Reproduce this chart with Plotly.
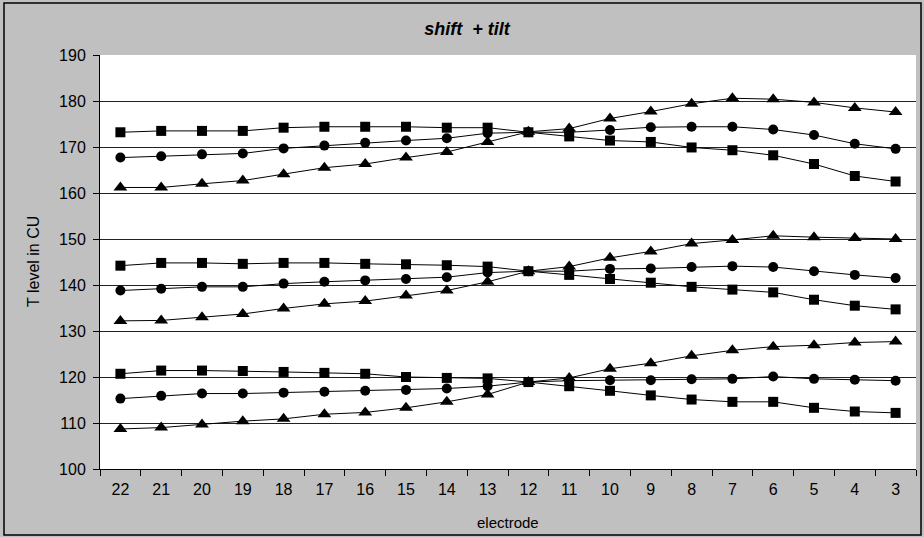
import plotly.graph_objects as go

electrodes = ["22", "21", "20", "19", "18", "17", "16", "15", "14", "13",
              "12", "11", "10", "9", "8", "7", "6", "5", "4", "3"]

# upper group
high_square = [173.2, 173.5, 173.5, 173.5, 174.2, 174.4, 174.4, 174.4, 174.2, 174.2,
               173.2, 172.3, 171.4, 171.1, 169.9, 169.3, 168.2, 166.3, 163.7, 162.5]
high_circle = [167.7, 168.0, 168.4, 168.6, 169.7, 170.3, 170.9, 171.4, 171.9, 173.0,
               173.2, 173.2, 173.7, 174.3, 174.4, 174.4, 173.8, 172.6, 170.7, 169.6]
high_triangle = [161.2, 161.2, 162.0, 162.7, 164.1, 165.5, 166.3, 167.7, 168.9, 171.1,
                 173.3, 174.0, 176.2, 177.7, 179.4, 180.6, 180.4, 179.7, 178.5, 177.6]

# middle group
mid_square = [144.2, 144.8, 144.8, 144.6, 144.8, 144.8, 144.6, 144.5, 144.3, 144.0,
              143.0, 142.2, 141.3, 140.5, 139.6, 139.0, 138.4, 136.8, 135.5, 134.7]
mid_circle = [138.8, 139.2, 139.6, 139.6, 140.3, 140.7, 141.0, 141.3, 141.7, 142.7,
              143.0, 143.0, 143.5, 143.6, 143.9, 144.1, 143.9, 143.0, 142.2, 141.5]
mid_triangle = [132.2, 132.3, 133.0, 133.7, 134.9, 135.9, 136.5, 137.7, 138.8, 140.7,
                143.0, 144.0, 145.9, 147.3, 149.0, 149.8, 150.7, 150.4, 150.2, 150.0]

# lower group
low_square = [120.7, 121.4, 121.4, 121.3, 121.1, 120.9, 120.7, 120.0, 119.8, 119.7,
              118.9, 118.0, 117.0, 116.0, 115.1, 114.6, 114.6, 113.3, 112.5, 112.2]
low_circle = [115.3, 115.9, 116.4, 116.4, 116.6, 116.8, 117.0, 117.2, 117.5, 118.0,
              118.9, 119.2, 119.3, 119.3, 119.5, 119.6, 120.1, 119.6, 119.4, 119.2]
low_triangle = [108.7, 109.0, 109.7, 110.4, 110.9, 111.9, 112.3, 113.3, 114.6, 116.2,
                118.9, 119.8, 121.8, 123.0, 124.6, 125.8, 126.6, 126.9, 127.5, 127.7]

series = [
    ("high square", high_square, "square", 10),
    ("high circle", high_circle, "circle", 10),
    ("high triangle", high_triangle, "triangle-up", 12),
    ("mid square", mid_square, "square", 10),
    ("mid circle", mid_circle, "circle", 10),
    ("mid triangle", mid_triangle, "triangle-up", 12),
    ("low square", low_square, "square", 10),
    ("low circle", low_circle, "circle", 10),
    ("low triangle", low_triangle, "triangle-up", 12),
]

FONT = "Liberation Sans, Arial, sans-serif"

fig = go.Figure()
for name, vals, sym, sz in series:
    fig.add_trace(go.Scatter(
        x=electrodes, y=vals, name=name, mode="lines+markers",
        line=dict(color="#000000", width=1),
        marker=dict(symbol=sym, size=sz, color="#000000", line=dict(width=0)),
        showlegend=False,
    ))

L, R, T, B = 100, 8, 55, 68
W, H = 924, 537
pw, ph = W - L - R, H - T - B

fig.update_layout(
    width=W, height=H,
    margin=dict(l=L, r=R, t=T, b=B),
    paper_bgcolor="#C0C0C0",
    plot_bgcolor="#FFFFFF",
    font=dict(family=FONT, size=16, color="#000000"),
    title=dict(text="<b><i>shift\u00a0 + tilt</i></b>", x=467 / W, xref="container",
               xanchor="center", y=1 - 29 / H, yref="container", yanchor="middle",
               font=dict(family=FONT, size=18, color="#000000")),
    xaxis=dict(
        type="category", categoryorder="array", categoryarray=electrodes,
        tickson="boundaries", ticks="outside", ticklen=6, tickcolor="#000000",
        showgrid=False, showline=True, linecolor="#000000", linewidth=1,
        tickfont=dict(family=FONT, size=16), ticklabelstandoff=6,
        range=[-0.5, len(electrodes) - 0.5],
    ),
    yaxis=dict(
        range=[100, 190], dtick=10, tick0=100,
        ticks="outside", ticklen=6, tickcolor="#000000",
        showgrid=True, gridcolor="#222222", gridwidth=1,
        showline=True, linecolor="#000000", linewidth=1,
        zeroline=False, tickfont=dict(family=FONT, size=16), ticklabelstandoff=4,
    ),
    annotations=[
        dict(text="T level in CU", textangle=-90, xref="paper", yref="paper",
             x=(33 - L) / pw, y=0.5, xanchor="center", yanchor="middle",
             showarrow=False, font=dict(family=FONT, size=16)),
        dict(text="electrode", xref="paper", yref="paper",
             x=0.5, y=-(522 - (T + ph)) / ph, xanchor="center", yanchor="middle",
             showarrow=False, font=dict(family=FONT, size=15)),
    ],
    shapes=[
        dict(type="rect", xref="paper", yref="paper",
             x0=(4 - L) / pw, x1=(921 - L) / pw,
             y0=-(535 - (T + ph)) / ph, y1=((T + ph) - 3) / ph,
             line=dict(color="#000000", width=1.5), fillcolor="rgba(0,0,0,0)",
             layer="below"),
    ],
)

fig.write_html("out.html")
